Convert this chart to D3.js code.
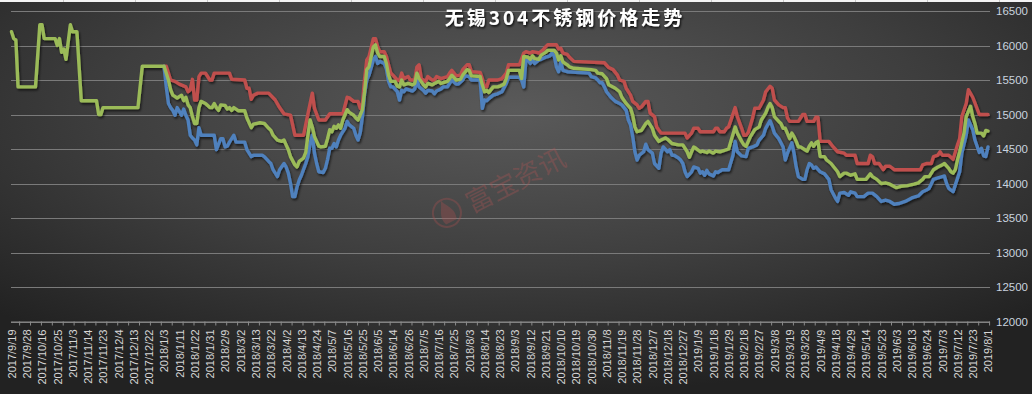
<!DOCTYPE html>
<html><head><meta charset="utf-8">
<script src="https://cdn.jsdelivr.net/npm/d3@7"></script>
<style>html,body{margin:0;padding:0;background:#2a2a2a;}svg{display:block}</style>
</head><body>
<svg id="c" width="1032" height="394"></svg>
<script>
const titleText = "无锡304不锈钢价格走势";
const watermarkText = "富宝资讯";
const xLabels = ["2017/9/19","2017/9/28","2017/10/16","2017/10/25","2017/11/3","2017/11/14","2017/11/23","2017/12/4","2017/12/13","2017/12/22",
"2018/1/3","2018/1/11","2018/1/22","2018/1/31","2018/2/9","2018/3/2","2018/3/13","2018/3/22","2018/4/2","2018/4/13","2018/4/24","2018/5/7","2018/5/16","2018/5/25","2018/6/5","2018/6/14","2018/6/26","2018/7/5","2018/7/16","2018/7/25","2018/8/3","2018/8/14","2018/8/23","2018/9/3","2018/9/12","2018/9/21","2018/10/10","2018/10/19","2018/10/30","2018/11/8","2018/11/19","2018/11/28","2018/12/7","2018/12/18","2018/12/27",
"2019/1/9","2019/1/18","2019/1/29","2019/2/18","2019/2/27","2019/3/8","2019/3/19","2019/3/28","2019/4/9","2019/4/18","2019/4/29","2019/5/14","2019/5/23","2019/6/3","2019/6/13","2019/6/24","2019/7/3","2019/7/12","2019/7/23","2019/8/1"];
const labelStep = 7;      // one label every 7 trading days
const tickStep = 5;       // one tick mark every 5 trading days
const yTicks = [12000,12500,13000,13500,14000,14500,15000,15500,16000,16500];

// [trading-day index, price]
const greenPts = [[0,16200],[1,16100],[2,16080],[3,15400],[11,15400],[13,16300],[14,16300],[15,16100],[20,16100],[21,16000],[22,16100],[23,15900],[24,15950],[25,15800],[27,16300],[28,16200],[30,16200],[32,15200],[39,15200],[40,15000],[41,15000],[42,15100],[58,15100],[60,15700],[70,15700],
[72,15500],[73,15360],[74,15280],[76,15240],[78,15280],[79,15200],[80,15250],[81,15140],[82,15100],[83,14970],[84,14870],[85,14870],[86,15100],[87,15190],[89,15160],[91,15100],[92,15100],[93,15160],[94,15100],[95,15060],[96,15140],[98,15130],[99,15080],[100,15100],[101,15060],[102,15100],[104,15055],[107,15055],[108,14950],[110,14810],[111,14860],[114,14880],[116,14870],[118,14800],[119,14770],[120,14700],[122,14630],[124,14610],[125,14630],[126,14560],[127,14490],[128,14390],[130,14270],[131,14240],[132,14320],[134,14370],[135,14450],[136,14700],[137,14920],[138,14820],[139,14680],[141,14540],[142,14530],[144,14540],[145,14650],[146,14780],[147,14750],[148,14830],[149,14800],[150,14850],[151,14800],[152,14920],[154,15070],[155,15030],[157,14990],[158,14950],[159,14920],[161,15070],[162,15330],[163,15650],[164,15690],[166,15980],[167,16010],[168,15890],[169,15840],[171,15840],[172,15740],[173,15570],[174,15480],[176,15480],[177,15410],[178,15400],[179,15500],[180,15430],[182,15450],[184,15430],[185,15450],[186,15600],[187,15520],[189,15430],[190,15400],[191,15450],[193,15430],[194,15450],[196,15480],[197,15450],[200,15480],[201,15520],[202,15570],[204,15500],[206,15510],[207,15570],[209,15650],[210,15640],[211,15560],[215,15550],[216,15430],[217,15330],[218,15350],[219,15320],[221,15400],[223,15400],[224,15410],[226,15440],[227,15520],[228,15640],[233,15640],[234,15520],[235,15840],[237,15830],[238,15800],[239,15850],[240,15810],[242,15800],[243,15860],[245,15900],[246,15930],[249,15930],[250,15890],[251,15790],[252,15850],[253,15760],[255,15720],[256,15690],[258,15670],[266,15650],[268,15640],[269,15600],[271,15590],[273,15520],[274,15430],[277,15380],[279,15330],[280,15250],[282,15160],[284,15090],[285,14990],[286,14820],[287,14750],[289,14770],[291,14870],[292,14900],[294,14800],[295,14700],[297,14610],[298,14630],[300,14660],[301,14640],[303,14580],[306,14560],[308,14560],[310,14460],[311,14380],[312,14460],[313,14530],[314,14510],[316,14460],[317,14470],[319,14450],[320,14470],[322,14440],[323,14470],[325,14460],[326,14470],[329,14500],[330,14610],[332,14820],[333,14730],[335,14610],[336,14560],[337,14540],[339,14680],[341,14780],[343,14820],[344,14920],[346,15020],[347,15100],[348,15160],[349,15100],[350,14970],[352,14900],[353,14870],[354,14800],[355,14800],[357,14650],[358,14730],[359,14680],[360,14610],[361,14530],[362,14530],[364,14490],[365,14470],[366,14540],[367,14590],[368,14540],[369,14590],[370,14610],[371,14390],[373,14390],[374,14340],[376,14290],[377,14250],[379,14170],[380,14100],[382,14150],[383,14150],[385,14120],[387,14140],[388,14060],[392,14060],[394,14140],[395,14100],[397,14060],[399,14000],[401,14010],[403,13990],[406,13940],[408,13960],[411,13970],[414,13990],[416,14010],[418,14060],[419,14100],[421,14100],[423,14200],[425,14240],[427,14270],[428,14290],[430,14220],[431,14170],[432,14150],[433,14200],[434,14340],[435,14460],[437,14730],[438,14970],[440,15120],[441,14970],[442,14870],[443,14730],[445,14730],[446,14690],[447,14770],[448,14760]];

const redPts = [[70,15700],[71,15700],[73,15500],[75,15480],[77,15440],[80,15400],[81,15330],[82,15360],[83,15510],[84,15210],[85,15210],[86,15550],[87,15600],[89,15600],[91,15500],[92,15500],[93,15600],[100,15600],[101,15510],[107,15500],[108,15380],[109,15380],[110,15220],[111,15280],[113,15310],[118,15310],[121,15210],[123,15100],[125,15010],[128,14990],[130,14700],[134,14700],[136,15010],[138,15310],[139,15090],[141,14920],[144,14920],[146,15010],[152,15010],[154,15250],[155,15240],[157,15190],[159,15190],[160,15090],[161,15160],[162,15520],[163,15790],[164,15840],[166,16100],[167,16100],[168,15980],[169,15910],[171,15910],[172,15840],[173,15720],[174,15600],[175,15570],[177,15500],[178,15490],[179,15600],[180,15520],[182,15550],[183,15500],[185,15500],[186,15690],[187,15720],[188,15520],[190,15480],[191,15550],[193,15500],[194,15500],[195,15550],[197,15520],[200,15550],[201,15600],[202,15640],[204,15560],[206,15570],[207,15650],[209,15720],[210,15720],[211,15620],[215,15610],[216,15520],[217,15400],[218,15400],[219,15500],[223,15500],[225,15520],[227,15600],[228,15720],[233,15720],[235,15890],[236,15910],[238,15890],[239,15910],[241,15900],[242,15890],[244,15940],[245,15980],[246,16010],[250,16010],[251,15950],[252,15960],[253,15890],[255,15870],[256,15830],[258,15770],[272,15750],[274,15680],[276,15650],[278,15570],[279,15500],[281,15480],[282,15380],[284,15280],[285,15190],[287,15140],[288,15090],[289,15110],[291,15190],[292,15190],[293,15020],[295,14970],[296,14820],[298,14730],[309,14730],[310,14660],[312,14730],[313,14800],[315,14800],[316,14750],[322,14750],[323,14800],[324,14800],[325,14750],[327,14750],[328,14800],[329,14820],[332,15100],[333,14970],[335,14800],[336,14700],[337,14700],[338,14740],[340,14950],[341,15090],[343,15090],[345,15210],[346,15330],[348,15410],[349,15380],[350,15210],[352,15140],[354,15100],[355,15100],[356,14950],[357,14900],[361,14900],[363,15000],[364,15000],[365,14900],[368,14900],[369,14960],[370,14960],[371,14610],[375,14610],[377,14530],[379,14460],[382,14440],[383,14410],[387,14410],[388,14290],[393,14290],[394,14410],[395,14390],[396,14290],[398,14290],[400,14200],[401,14250],[403,14250],[405,14200],[417,14200],[418,14270],[420,14290],[422,14290],[423,14390],[425,14410],[426,14460],[427,14410],[430,14410],[432,14350],[434,14560],[435,14650],[436,14970],[438,15160],[439,15360],[441,15250],[442,15170],[444,15000],[448,15000]];

const bluePts = [[70,15700],[71,15400],[72,15160],[73,15100],[74,15060],[75,14990],[76,15100],[78,14990],[79,15080],[80,14990],[81,14920],[82,14700],[83,14660],[84,14630],[85,14560],[86,14810],[87,14700],[93,14700],[94,14490],[96,14650],[97,14650],[98,14530],[99,14540],[100,14600],[102,14700],[103,14600],[107,14600],[108,14490],[110,14390],[111,14410],[115,14410],[116,14390],[118,14320],[119,14290],[120,14200],[122,14100],[123,14200],[125,14290],[126,14240],[127,14150],[128,14000],[129,13810],[130,13810],[131,13950],[132,14050],[133,14120],[135,14290],[136,14390],[137,14580],[138,14700],[139,14440],[140,14290],[141,14170],[143,14160],[144,14220],[145,14350],[146,14510],[147,14510],[148,14580],[149,14530],[150,14630],[151,14700],[153,14800],[154,14900],[155,14850],[157,14800],[158,14700],[159,14630],[160,14740],[161,14970],[162,15310],[163,15500],[164,15570],[166,15790],[167,15840],[168,15740],[169,15770],[171,15740],[172,15660],[173,15480],[174,15400],[175,15400],[177,15330],[178,15210],[179,15350],[180,15330],[181,15370],[182,15360],[184,15340],[185,15370],[186,15500],[187,15400],[189,15350],[190,15310],[191,15350],[193,15340],[194,15300],[195,15340],[197,15370],[198,15400],[200,15400],[201,15450],[202,15500],[204,15440],[205,15440],[207,15500],[208,15560],[210,15550],[211,15500],[215,15500],[216,15090],[217,15210],[218,15200],[219,15230],[221,15280],[223,15300],[225,15330],[227,15450],[228,15540],[233,15540],[234,15500],[235,15400],[236,15790],[237,15790],[238,15740],[239,15790],[240,15740],[242,15790],[243,15800],[245,15830],[246,15840],[247,15850],[248,15890],[249,15850],[250,15690],[251,15620],[252,15760],[253,15640],[255,15620],[265,15600],[266,15550],[268,15530],[269,15500],[270,15460],[271,15460],[272,15400],[273,15330],[275,15250],[277,15190],[279,15160],[280,15140],[282,15060],[283,14920],[284,14850],[285,14680],[286,14460],[287,14340],[288,14410],[290,14460],[291,14570],[292,14490],[294,14440],[295,14290],[297,14220],[298,14440],[299,14530],[301,14460],[302,14490],[303,14410],[304,14410],[306,14370],[307,14340],[308,14290],[309,14170],[310,14100],[312,14170],[313,14240],[315,14220],[316,14150],[317,14170],[318,14120],[319,14190],[320,14140],[322,14110],[323,14170],[324,14160],[326,14200],[329,14200],[331,14410],[332,14610],[333,14460],[335,14400],[337,14390],[338,14510],[340,14530],[342,14560],[343,14630],[345,14700],[346,14800],[348,14910],[349,14830],[350,14730],[352,14650],[353,14590],[354,14530],[355,14340],[356,14440],[358,14590],[359,14440],[360,14240],[361,14100],[363,14060],[364,14060],[365,14200],[366,14290],[367,14270],[368,14220],[369,14240],[371,14170],[373,14140],[375,14060],[376,13910],[378,13790],[379,13740],[380,13860],[382,13870],[384,13830],[385,13880],[387,13860],[388,13810],[391,13810],[393,13860],[395,13860],[397,13810],[399,13740],[401,13760],[403,13740],[405,13700],[407,13710],[410,13740],[413,13790],[416,13820],[418,13880],[420,13910],[421,13930],[423,14060],[425,14080],[427,14100],[428,14110],[429,14000],[430,13930],[432,13880],[433,13980],[435,14170],[436,14440],[438,14700],[439,14920],[441,14780],[442,14630],[444,14450],[445,14510],[446,14400],[447,14390],[448,14530]];

const series = [
  {name:"red", pts: redPts, color:"#c0504d"},
  {name:"blue", pts: bluePts, color:"#4f81bd"},
  {name:"green", pts: greenPts, color:"#9bbb59"}
];

const W = 1032, H = 394;
const margin = {left: 11.5, right: 44, top: 11, bottom: 72.5};
const lastIdx = (xLabels.length - 1) * labelStep;

const svg = d3.select("#c");
const defs = svg.append("defs");
const rg = defs.append("radialGradient").attr("id","bg").attr("cx","50%").attr("cy","28%").attr("r","72%");
rg.append("stop").attr("offset","0%").attr("stop-color","#5a5a5a");
rg.append("stop").attr("offset","55%").attr("stop-color","#3e3e3e");
rg.append("stop").attr("offset","100%").attr("stop-color","#222222");
const sh = defs.append("filter").attr("id","sh").attr("x","-5%").attr("y","-20%").attr("width","110%").attr("height","140%");
sh.append("feDropShadow").attr("dx",1.2).attr("dy",2).attr("stdDeviation",1.2).attr("flood-color","#000").attr("flood-opacity",0.6);
const tsh = defs.append("filter").attr("id","tsh").attr("x","-10%").attr("y","-40%").attr("width","120%").attr("height","180%");
tsh.append("feDropShadow").attr("dx",1).attr("dy",1.5).attr("stdDeviation",1).attr("flood-color","#000").attr("flood-opacity",0.9);

svg.append("rect").attr("width",W).attr("height",H).attr("fill","url(#bg)");
// spreadsheet strip on top edge
svg.append("rect").attr("width",W).attr("height",2).attr("fill","#f4f4f4");
svg.append("g").selectAll("rect").data(d3.range(63, W, 72)).join("rect")
  .attr("x", d=>d).attr("y",0).attr("width",1).attr("height",2).attr("fill","#c8c8c8");

const x = d3.scaleLinear().domain([0, lastIdx]).range([margin.left, W - margin.right]);
const y = d3.scaleLinear().domain([yTicks[0], yTicks[yTicks.length-1]]).range([H - margin.bottom, margin.top]);

// gridlines
const grid = svg.append("g").attr("transform", `translate(${x(lastIdx)+2},0)`)
  .call(d3.axisLeft(y).tickValues(yTicks).tickSize(x(lastIdx)+2-margin.left+0.5).tickFormat(""));
grid.select(".domain").remove();
grid.selectAll(".tick line").attr("stroke","#7a7a7a").attr("stroke-width",1).attr("shape-rendering","crispEdges");

// y labels on right
const ya = svg.append("g").attr("transform", `translate(${W-36},0)`)
  .call(d3.axisRight(y).tickValues(yTicks).tickSize(0).tickPadding(0).tickFormat(d3.format("d")));
ya.select(".domain").remove();
ya.selectAll("text").attr("fill","#c9d3df").attr("font-family","'Liberation Sans', Arial, sans-serif").attr("font-size",11.5);

// x axis: line + ticks
const xa = svg.append("g").attr("transform", `translate(0,${y(yTicks[0])})`)
  .call(d3.axisBottom(x).tickValues(d3.range(3.5, lastIdx + 2, tickStep)).tickSize(4).tickFormat("").tickSizeOuter(0));
xa.select(".domain").attr("stroke","#8a8a8a").attr("d", `M${margin.left-0.5},0.5H${x(lastIdx)+2}`);
xa.selectAll(".tick line").attr("stroke","#8a8a8a");

// x labels
const xl = svg.append("g").attr("transform", `translate(0,${y(yTicks[0]) + 8})`)
  .call(d3.axisBottom(x).tickValues(d3.range(0, lastIdx + 1, labelStep)).tickSize(0)
    .tickFormat((d,i)=>xLabels[i]));
xl.select(".domain").remove();
xl.selectAll("text")
  .attr("fill","#d6d6d6").attr("font-family","'Liberation Sans', Arial, sans-serif").attr("font-size",11)
  .attr("transform","rotate(-90)").attr("text-anchor","end").attr("x",0).attr("y",0).attr("dy","0.35em");

// watermark
const wm = svg.append("g").attr("transform","translate(512,182) rotate(-27)").attr("opacity",0.32);
wm.append("circle").attr("cx",-72).attr("cy",-2).attr("r",14).attr("fill","none").attr("stroke","#b05050").attr("stroke-width",2);
wm.append("path").attr("d","M-78,8 C-82,-2 -74,-8 -72,-16 C-70,-8 -62,-4 -66,8 Z").attr("fill","#b05050");
wm.append("text").text(watermarkText).attr("x",-50).attr("y",10).attr("fill","#b35555")
  .attr("font-family","'Noto Sans CJK SC', sans-serif").attr("font-size",27);

// lines
const line = d3.line().x(d=>x(d[0])).y(d=>y(d[1]));
svg.append("g").attr("filter","url(#sh)").selectAll("path").data(series).join("path")
  .attr("d", d=>line(d.pts)).attr("fill","none").attr("stroke", d=>d.color)
  .attr("stroke-width",3.4).attr("stroke-linejoin","round").attr("stroke-linecap","round");

// title
svg.append("text").text(titleText).attr("x",565).attr("y",25).attr("text-anchor","middle")
  .attr("fill","#ffffff").attr("font-family","'Noto Sans CJK SC', sans-serif").attr("font-weight","bold")
  .attr("font-size",19).attr("letter-spacing",3).attr("filter","url(#tsh)");
</script>
</body></html>
